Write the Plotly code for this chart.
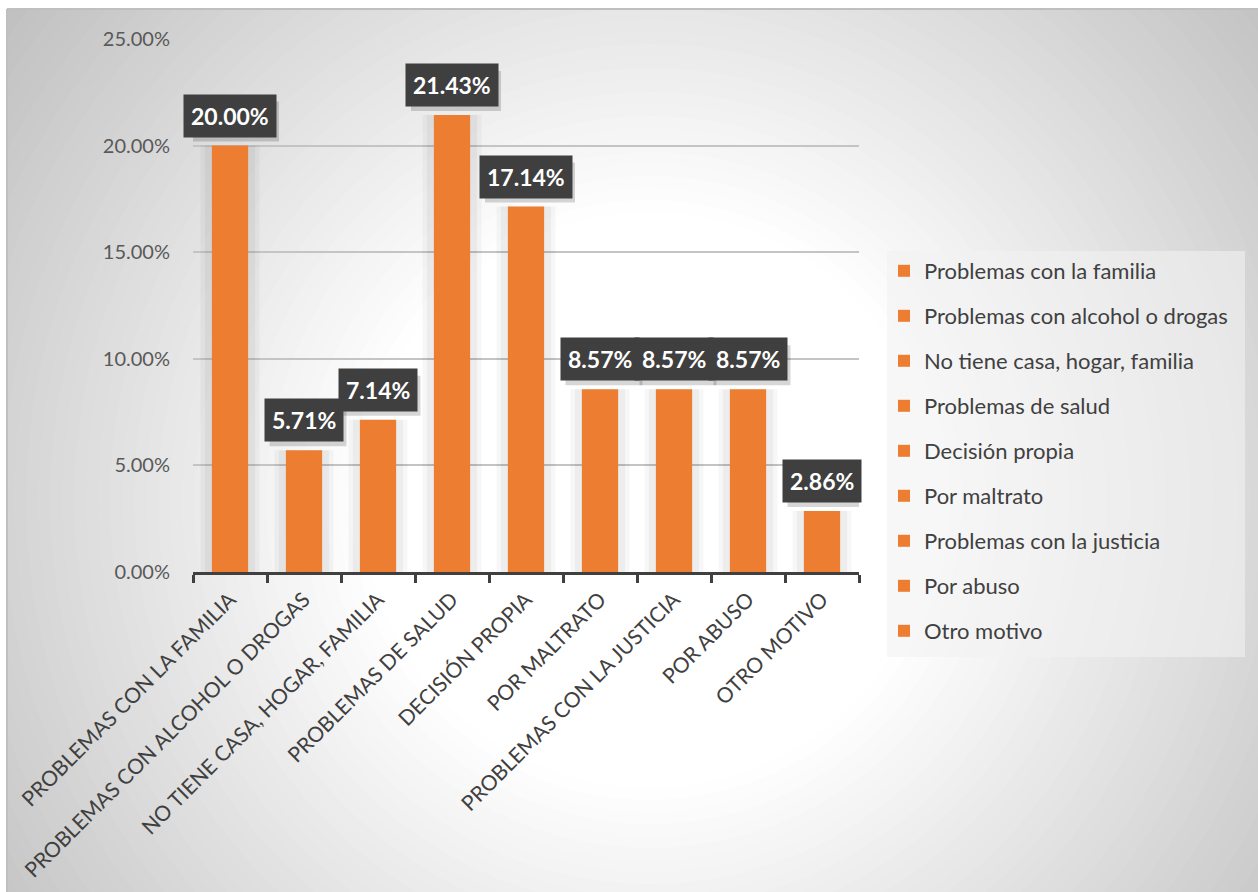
import plotly.graph_objects as go

# Motivos y porcentajes
categorias = [
    "PROBLEMAS CON LA FAMILIA",
    "PROBLEMAS CON ALCOHOL O DROGAS",
    "NO TIENE CASA, HOGAR, FAMILIA",
    "PROBLEMAS DE SALUD",
    "DECISIÓN PROPIA",
    "POR MALTRATO",
    "PROBLEMAS CON LA JUSTICIA",
    "POR ABUSO",
    "OTRO MOTIVO",
]
nombres_leyenda = [
    "Problemas con la familia",
    "Problemas con alcohol o drogas",
    "No tiene casa, hogar, familia",
    "Problemas de salud",
    "Decisión propia",
    "Por maltrato",
    "Problemas con la justicia",
    "Por abuso",
    "Otro motivo",
]
porcentajes = [0.2000, 0.0571, 0.0714, 0.2143, 0.1714, 0.0857, 0.0857, 0.0857, 0.0286]
ticks_y = [0, 0.05, 0.10, 0.15, 0.20, 0.25]

NARANJA = "#ED7D31"
FUENTE = "Lato"

# plot-area geometry in pixels
L, R, T, B = 193, 859, 39, 572
W, H = R - L, B - T
ANCHO, ALTO = 1258, 892


def px(x):
    return (x - L) / W


def py(y):
    return (B - y) / H


fig = go.Figure()

# soft shadow behind each bar
for cat, val in zip(categorias, porcentajes):
    for w, a in [(0.80, 0.03), (0.68, 0.04)]:
        fig.add_trace(go.Bar(
            x=[cat], y=[val], width=w, showlegend=False, hoverinfo="skip",
            marker=dict(color=f"rgba(0,0,0,{a})", line=dict(width=0)),
        ))

# one trace per motive so each gets its own legend entry
for i, (cat, nom, val) in enumerate(zip(categorias, nombres_leyenda, porcentajes)):
    fig.add_trace(go.Bar(
        x=[cat], y=[val], name=nom, width=0.49, legendgroup=f"g{i}",
        marker=dict(color=NARANJA, line=dict(width=0)),
    ))

formas = []

# radial background: concentric circles from grey edge to white centre
cx, cy = 650, 500
r_blanco, r_borde = 288, 781
for r in range(840, r_blanco - 1, -12):
    g = 255 - 59 * max(0, r - r_blanco) / (r_borde - r_blanco)
    g = int(round(max(190, min(255, g))))
    formas.append(dict(
        type="circle", xref="paper", yref="paper", layer="below",
        x0=px(cx - r), x1=px(cx + r), y0=py(cy + r), y1=py(cy - r),
        fillcolor=f"rgb({g},{g},{g})", line=dict(width=0),
    ))
# white margin outside the chart frame
formas.append(dict(type="rect", xref="paper", yref="paper", layer="below",
                   x0=px(-20), x1=px(7), y0=py(ALTO + 20), y1=py(-20),
                   fillcolor="white", line=dict(width=0)))
formas.append(dict(type="rect", xref="paper", yref="paper", layer="below",
                   x0=px(-20), x1=px(ANCHO + 20), y0=py(9), y1=py(-20),
                   fillcolor="white", line=dict(width=0)))
# frame
formas.append(dict(type="line", xref="paper", yref="paper", layer="below",
                   x0=px(7), x1=px(7), y0=py(9), y1=py(ALTO + 5),
                   line=dict(color="#bfbfbf", width=2)))
formas.append(dict(type="line", xref="paper", yref="paper", layer="below",
                   x0=px(7), x1=px(ANCHO + 5), y0=py(9), y1=py(9),
                   line=dict(color="#bfbfbf", width=2)))
# legend panel
formas.append(dict(type="rect", xref="paper", yref="paper", layer="below",
                   x0=px(887), x1=px(1245), y0=py(657), y1=py(251),
                   fillcolor="rgba(242,242,242,0.6)", line=dict(width=0)))

# value labels in dark boxes, each with a drop shadow drawn as a pixel-sized shape
anotaciones = []
for cat, val in zip(categorias, porcentajes):
    texto = f"{val * 100:.2f}%"
    media = (13 * len(texto) + 12) / 2
    formas.append(dict(
        type="rect", layer="above",
        xref="x", xsizemode="pixel", xanchor=cat, x0=-media + 4, x1=media + 4,
        yref="y", ysizemode="pixel", yanchor=val, y0=4, y1=44,
        fillcolor="rgba(0,0,0,0.16)", line=dict(width=0),
    ))
    anotaciones.append(dict(
        x=cat, y=val, xref="x", yref="y", text=texto, showarrow=False,
        yanchor="bottom", yshift=8, borderpad=7, bgcolor="#3f3f3f",
        font=dict(family=FUENTE, size=23, color="white", weight="bold"),
    ))

fig.update_layout(
    width=ANCHO, height=ALTO,
    margin=dict(l=L, r=ANCHO - R, t=T, b=ALTO - B, autoexpand=False),
    paper_bgcolor="white",
    plot_bgcolor="rgba(0,0,0,0)",
    barmode="overlay",
    font=dict(family=FUENTE, color="#404040"),
    shapes=formas,
    annotations=anotaciones,
    legend=dict(
        x=px(884), y=py(250), xanchor="left", yanchor="top",
        bgcolor="rgba(0,0,0,0)", tracegroupgap=13.4,
        font=dict(family=FUENTE, size=22, color="#404040"),
    ),
    xaxis=dict(
        categoryorder="array", categoryarray=categorias,
        range=[-0.5, len(categorias) - 0.5],
        tickangle=-45, tickfont=dict(family=FUENTE, size=21, color="#404040"),
        showline=True, linecolor="#404040", linewidth=3,
        ticks="outside", tickson="boundaries", ticklen=8, tickwidth=3,
        tickcolor="#404040", showgrid=False, fixedrange=True,
        ticklabelstandoff=4,
    ),
    yaxis=dict(
        range=[0, 0.25], tickvals=ticks_y, tickformat=".2%",
        tickfont=dict(family=FUENTE, size=20, color="#595959"),
        showgrid=True, gridcolor="#c4c4c4", gridwidth=1.5,
        zeroline=False, showline=False, ticks="", ticklabelstandoff=22,
        fixedrange=True,
    ),
)

fig.write_html("out.html")
